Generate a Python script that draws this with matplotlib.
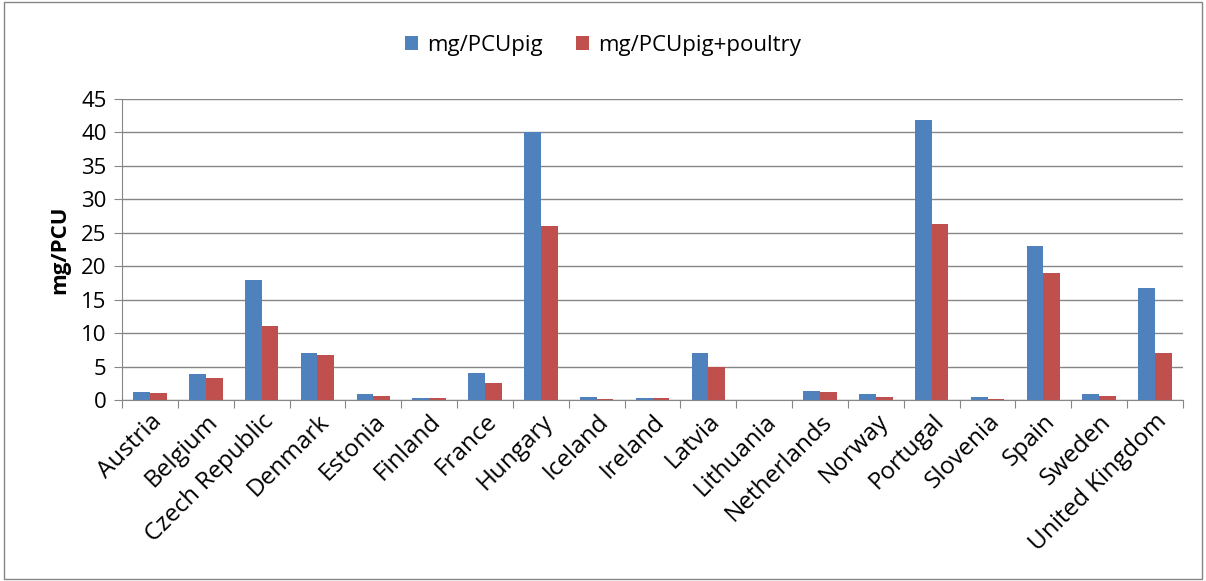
import matplotlib.pyplot as plt
import numpy as np
from matplotlib.patches import Rectangle

countries = ["Austria", "Belgium", "Czech Republic", "Denmark", "Estonia", "Finland",
             "France", "Hungary", "Iceland", "Ireland", "Latvia", "Lithuania",
             "Netherlands", "Norway", "Portugal", "Slovenia", "Spain", "Sweden",
             "United Kingdom"]
pig = [1.2, 3.9, 17.9, 7.1, 0.85, 0.25, 4.1, 40.0, 0.4, 0.25, 7.1, 0.0,
       1.4, 0.85, 41.8, 0.4, 23.0, 0.85, 16.7]
pig_poultry = [1.0, 3.3, 11.0, 6.7, 0.6, 0.25, 2.5, 26.0, 0.2, 0.25, 5.0, 0.0,
               1.2, 0.4, 26.3, 0.2, 19.0, 0.6, 7.0]
y_ticks = [0, 5, 10, 15, 20, 25, 30, 35, 40, 45]

plt.rcParams['font.family'] = ['Open Sans', 'DejaVu Sans']

fig = plt.figure(figsize=(12.06, 5.81), dpi=100)
ax = fig.add_axes([122 / 1206, 1 - 400 / 581, (1183 - 122) / 1206, (400 - 99) / 581])

x = np.arange(len(countries))
w = 0.3
ax.bar(x - w / 2, pig, w, color='#4f81bd', label='mg/PCUpig')
ax.bar(x + w / 2, pig_poultry, w, color='#c0504d', label='mg/PCUpig+poultry')

ax.set_xlim(-0.5, len(countries) - 0.5)
ax.set_ylim(0, 45)
ax.set_yticks(y_ticks)
ax.tick_params(axis='y', labelsize=16, length=6, color='#868686', pad=5)
ax.yaxis.grid(True, color='#868686', linewidth=1)
ax.set_axisbelow(True)

ax.set_xticks(np.arange(len(countries) + 1) - 0.5, minor=False)
ax.set_xticklabels([])
ax.set_xticks(x, minor=True)
ax.set_xticklabels(countries, minor=True, rotation=45, ha='right',
                   rotation_mode='anchor', fontsize=17.5)
ax.tick_params(axis='x', which='major', length=6, color='#868686')
ax.tick_params(axis='x', which='minor', length=0, pad=7)

for s in ['top', 'right']:
    ax.spines[s].set_visible(False)
for s in ['left', 'bottom']:
    ax.spines[s].set_color('#868686')

ax.set_ylabel('mg/PCU', fontsize=16, fontweight='bold', labelpad=8)

fig.legend(loc='center', bbox_to_anchor=(0.5, 1 - 45 / 581), ncol=2, frameon=False,
           fontsize=16, handlelength=0.6, handleheight=0.6, columnspacing=1.5,
           handletextpad=0.4)

fig.patches.append(Rectangle((0.003, 0.003), 0.994, 0.994, transform=fig.transFigure,
                             fill=False, edgecolor='#868686', linewidth=1))

fig.savefig('out.png', dpi=100)
